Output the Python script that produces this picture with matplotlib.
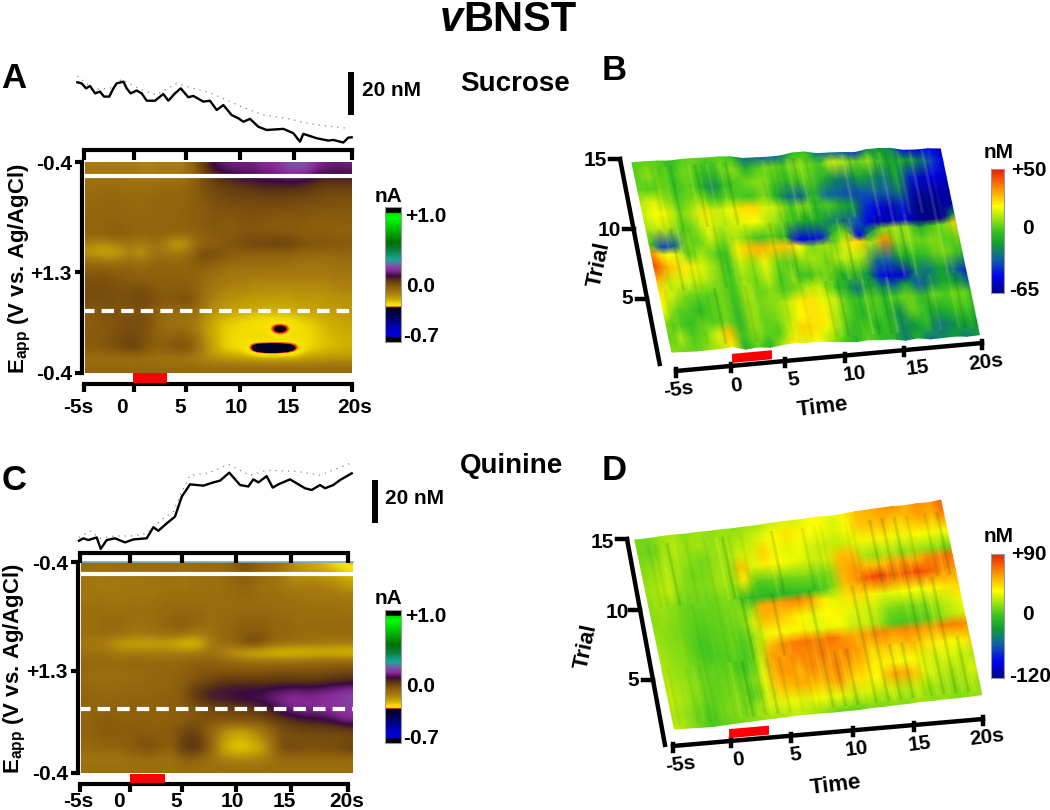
import matplotlib
matplotlib.use('Agg')
import matplotlib.pyplot as plt
import numpy as np
from matplotlib.collections import LineCollection
from matplotlib.colors import LinearSegmentedColormap, TwoSlopeNorm, Normalize
from matplotlib.transforms import Affine2D

plt.rcParams['font.family'] = ['Liberation Sans', 'DejaVu Sans']
plt.rcParams['font.weight'] = 'bold'
plt.rcParams['mathtext.fontset'] = 'custom'
plt.rcParams['mathtext.bf'] = 'Liberation Sans:bold'
plt.rcParams['mathtext.rm'] = 'Liberation Sans:bold'

# time columns of the colour plots and surfaces
seconds = np.arange(-5, 21)
half_seconds = np.arange(-5, 20.5, 0.5)
trials = np.arange(15, 0, -1)
relief_trials = [14.6, 10, 5.5, 1.4]

# scale bars of the traces
trace_a_t = [-5.62, -5.22, -4.81, -4.44, -3.97, -3.51, -3.13, -2.64, -2.26, -1.95, -1.33, -1.02, -0.65, -0.09, 0.38, 0.85, 1.62, 2.40, 2.87, 3.49, 4.02, 4.73, 5.20, 6.13, 6.75, 7.38, 8.0, 8.77, 9.40, 9.86, 10.49, 11.26, 12.04, 13.6, 14.53, 15.15, 15.46, 16.7, 17.79, 18.26, 19.19, 19.66, 19.97]
trace_a_nm = [0, -.5, -2.8, -1.7, -5.1, -4.3, -6.6, -6.6, -2.8, -.5, .3, -2.8, -5.1, -3.8, -5.1, -8.5, -8.5, -5.4, -8.5, -5.1, -2.8, -6.9, -6.3, -8.9, -8.5, -12.8, -10.5, -15.1, -16.6, -18.2, -16.9, -20.5, -22, -21.5, -23.5, -27.4, -23.8, -25.8, -26.9, -26.6, -27.8, -25.5, -25.4]
sem_a_t = [-5.62, -4.13, -2.57, -1.49, 0.22, 1.78, 3.64, 5.2, 6.75, 8.31, 9.86, 11.73, 13.91, 16.08, 19.5]
sem_a_nm = [2.9, -3.2, -2.8, 1.4, -3.2, -5.8, -0.5, -2.8, -4.8, -8.2, -11.6, -15.1, -16.6, -19.2, -21.2]

trace_c_t = [-5.09, -4.69, -4.22, -3.44, -3.07, -2.51, -1.73, -0.80, -0.02, 1.22, 1.84, 2.31, 3.09, 3.86, 4.49, 5.26, 6.51, 7.44, 8.06, 8.93, 9.93, 10.7, 11.17, 11.64, 12.41, 12.98, 13.5, 14.59, 15.99, 16.61, 17.39, 17.86, 18.63, 19.26, 20.35]
trace_c_nm = [0, 1.1, .3, 1.5, -3.8, .3, 1.1, -.8, .6, 1.1, 6.2, 4.6, 8, 11.1, 20.3, 26, 25.4, 26.9, 27.7, 31.4, 25.7, 25, 28.3, 26.9, 29.8, 24.5, 26, 28.3, 24.2, 23.4, 25.7, 24.2, 25.7, 28, 31.1]
sem_c_t = [-5.09, -4.06, -3.13, -1.73, -0.02, 1.22, 2.78, 3.71, 4.49, 5.26, 6.97, 8.84, 10.86, 12.41, 15.21, 17.39, 20.35]
sem_c_nm = [1.5, 4.5, 1.1, 2.2, 2.2, 3.4, 10.3, 13.4, 22.6, 30.2, 31.2, 35.2, 30.2, 32.5, 32, 30.2, 36]

# colour plot currents, in 0.01 nA, rows from the start of the sweep
cv_a = np.array([
    [-8,-9,-8,-9,-8,-10,-10,-8,-9,-9,-2,6,14,17,18,18,18,20,20,24,27,26,20,18,17,18],
    [-7,-7,-7,-7,-7,-8,-8,-7,-7,-7,-3,3,7,10,12,14,14,16,16,18,18,16,13,12,12,12],
    [-5,-5,-4,-5,-5,-5,-5,-4,-4,-4,-1,2,4,6,7,8,9,10,10,10,10,9,7,6,6,6],
    [-4,-4,-3,-4,-4,-4,-4,-3,-3,-3,-1,1,3,4,5,5,5,6,6,6,5,5,4,3,3,3],
    [-4,-3,-3,-3,-4,-4,-3,-3,-3,-2,-1,0,2,2,3,3,3,3,3,3,3,2,2,2,2,1],
    [-3,-3,-3,-3,-3,-4,-3,-3,-2,-2,-1,0,1,1,1,2,2,2,1,1,1,1,0,0,0,0],
    [-3,-3,-2,-2,-3,-3,-3,-2,-2,-2,-1,0,1,0,0,1,1,0,0,0,0,0,-1,-1,-1,-1],
    [-2,-1,0,0,-2,-3,-2,-2,-3,-3,-2,-1,0,1,0,1,1,1,1,0,0,-1,-1,-1,-2,-2],
    [-10,-12,-10,-8,-6,-9,-6,-8,-15,-17,-9,-2,-2,0,2,3,5,5,6,6,5,2,2,2,2,1],
    [-14,-16,-17,-15,-10,-15,-8,-6,-8,-7,-2,4,3,2,-1,0,-1,-2,-1,-1,-2,-3,-3,-4,-3,-3],
    [-4,-5,-6,-5,-3,-6,-3,-3,-3,-4,-1,1,-1,-3,-4,-5,-5,-4,-4,-5,-6,-6,-6,-6,-5,-5],
    [0,1,0,-1,-2,-3,-2,-2,-2,-2,-2,-3,-5,-6,-7,-7,-7,-8,-8,-8,-8,-8,-8,-8,-7,-7],
    [2,3,2,1,0,1,0,-1,-1,-1,-2,-4,-7,-8,-9,-9,-10,-10,-10,-10,-10,-10,-10,-10,-9,-9],
    [3,3,2,2,3,3,1,0,0,1,-1,-5,-8,-10,-11,-11,-12,-12,-12,-13,-12,-12,-12,-12,-11,-10],
    [3,3,3,2,3,5,3,1,1,2,3,-6,-10,-12,-13,-14,-14,-15,-15,-15,-14,-14,-14,-13,-13,-13],
    [0,1,2,1,1,2,0,-3,-4,-3,-4,-9,-12,-14,-15,-16,-17,-17,-17,-17,-16,-15,-15,-14,-14,-13],
    [-1,1,1,2,3,3,1,-5,-6,-7,-7,-12,-16,-19,-20,-21,-22,-23,-22,-22,-22,-20,-19,-17,-16,-15],
    [0,0,1,2,3,2,0,-4,-5,-4,-7,-12,-17,-20,-21,-22,-23,-22,-31,-31,-22,-22,-20,-18,-17,-16],
    [0,0,2,3,5,3,0,-2,-1,1,-2,-10,-16,-20,-22,-22,-20,-19,-19,-19,-21,-22,-20,-19,-18,-17],
    [-1,1,2,3,6,3,0,-1,1,3,-1,-9,-16,-20,-22,-23,-34,-36,-36,-35,-31,-22,-20,-19,-18,-17],
    [-5,-6,-6,-6,-7,-6,-7,-8,-8,-8,-9,-11,-12,-13,-14,-14,-14,-15,-15,-15,-15,-14,-14,-13,-13,-13],
    [-3,-3,-3,-3,-3,-3,-3,-3,-3,-3,-3,-4,-4,-4,-4,-4,-4,-4,-4,-4,-4,-4,-4,-4,-4,-4],
]) / 100

cv_c = np.array([
    [-4,-5,-5,-4,-4,-4,-4,-4,-4,-5,-4,-4,-4,-4,-2,3,0,-3,-4,-8,-13,-15,-17,-19,-22,-26],
    [-6,-7,-6,-6,-6,-6,-6,-6,-5,-6,-6,-5,-5,-4,-3,0,-2,-4,-6,-9,-12,-12,-13,-14,-15,-18],
    [-8,-8,-8,-9,-7,-8,-7,-7,-6,-8,-6,-6,-6,-5,-4,-2,-4,-6,-6,-8,-10,-9,-9,-10,-11,-14],
    [-7,-7,-7,-7,-6,-7,-7,-6,-5,-5,-5,-5,-5,-4,-4,-3,-4,-5,-5,-6,-7,-7,-7,-8,-8,-9],
    [-6,-6,-6,-7,-6,-6,-6,-5,-4,-5,-5,-5,-5,-4,-5,-4,-5,-5,-5,-5,-5,-6,-6,-6,-6,-7],
    [-5,-5,-4,-4,-5,-5,-5,-4,-4,-2,-2,-3,-5,-4,-4,-3,-3,-3,-4,-4,-5,-5,-5,-5,-5,-5],
    [-5,-5,-4,-4,-5,-6,-5,-4,-2,-1,-2,-4,-4,-4,-3,-1,-2,-1,-3,-3,-4,-4,-4,-4,-4,-4],
    [-5,-5,-4,-4,-6,-7,-6,-5,-4,-3,-6,-7,-6,-3,-2,-1,0,0,-3,-3,-4,-4,-4,-4,-4,-4],
    [-8,-9,-10,-15,-16,-16,-17,-16,-17,-20,-22,-18,-8,-4,-3,3,7,2,-3,-4,-5,-6,-6,-7,-7,-7],
    [-6,-6,-6,-9,-9,-9,-9,-9,-9,-9,-9,-8,-6,-11,-14,-18,-21,-21,-22,-23,-22,-22,-21,-21,-21,-22],
    [-3,-4,-3,-3,-3,-2,-3,-3,-3,-3,-1,-1,-1,-2,-3,-4,-4,-4,-4,-4,-4,-3,-3,-2,-2,-2],
    [-4,-5,-5,-6,-4,-5,-4,-3,-3,-2,-1,1,1,1,1,1,1,1,2,2,2,2,2,3,3,4],
    [-4,-5,-5,-4,-4,-4,-3,-3,-2,-1,1,3,5,7,8,8,8,8,8,8,8,8,8,9,10,11],
    [-3,-3,-4,-4,-3,-3,-3,-2,-2,-1,5,9,12,13,13,14,14,14,16,17,18,17,18,19,20,22],
    [-2,-3,-3,-2,-2,-2,-2,-1,-1,0,4,8,10,11,12,13,14,15,18,20,21,20,20,21,22,24],
    [-3,-2,-2,-2,-2,-1,-2,-2,-1,-1,0,1,3,3,4,5,6,8,12,16,18,19,19,20,21,22],
    [-3,-1,0,-1,-2,-1,-1,-2,-1,-1,1,2,2,2,3,3,3,4,6,8,10,12,12,13,17,20],
    [-2,-1,0,0,-1,0,-1,-1,0,2,5,2,-3,-10,-14,-14,-11,-6,0,3,4,5,5,5,5,6],
    [-3,-2,-1,-1,-1,1,1,0,-1,4,8,5,-3,-13,-17,-18,-15,-11,-2,3,2,2,2,3,2,3],
    [-4,-3,-2,-3,-1,1,3,1,-2,5,9,6,-3,-16,-20,-21,-19,-15,-4,5,4,3,3,3,4,6],
    [-7,-7,-7,-7,-6,-5,-5,-6,-7,-2,-1,-3,-6,-9,-10,-11,-10,-9,-6,-4,-4,-4,-4,-4,-4,-4],
    [-5,-5,-5,-5,-5,-5,-5,-5,-5,-5,-5,-5,-5,-5,-5,-5,-5,-5,-5,-5,-5,-5,-5,-5,-5,-5],
]) / 100

# trial by trial dopamine, nM, trial 15 first
surf_b = np.array([
    [2,4,3,-4,3,5,2,4,-2,-24,-26,-28,-24,-4,-2,-24,-26,-28,-38,-18,-14,-20,-45,-50,-46,-55],
    [3,8,4,0,6,2,-6,4,8,-6,3,6,2,8,6,0,16,10,4,8,-6,-12,-10,-20,-35,-50],
    [4,2,6,-2,4,-2,-20,-4,2,6,8,2,-4,2,4,-8,-20,-24,-10,-18,-25,-10,-40,-52,-50,-55],
    [12,16,10,2,6,8,-2,4,2,0,6,-8,-25,-28,-2,-28,-30,-34,-32,-28,-30,-20,-55,-60,-58,-60],
    [14,20,18,6,12,22,14,18,24,25,16,12,2,8,-2,2,-6,-15,-40,-50,-55,-40,-62,-64,-62,-60],
    [10,14,12,2,8,18,12,14,18,20,12,6,-2,-12,-8,-20,-25,-30,-50,-58,-55,-50,-62,-64,-62,-20],
    [2,-36,-30,6,4,14,6,12,6,-2,4,-8,-48,-50,-42,-2,6,-50,-15,6,10,8,-8,2,6,25],
    [35,20,18,4,10,4,-2,22,28,30,26,28,20,6,10,8,22,25,10,35,6,8,4,8,2,6],
    [45,30,24,22,16,8,-2,14,8,18,6,2,8,10,6,12,14,10,-25,-30,-12,-2,-2,6,4,-2],
    [28,14,16,14,12,6,0,10,6,14,2,6,-2,4,6,-8,2,-15,-45,-52,-50,-20,-25,-10,-25,-40],
    [22,14,6,4,2,6,-2,12,4,8,2,6,12,14,2,-8,-25,-8,-20,-25,-10,-30,-20,-10,-15,-25],
    [20,4,2,-4,2,6,-4,10,6,8,12,22,24,18,14,2,-2,4,-2,2,6,-4,4,2,6,2],
    [6,2,-2,4,2,6,-6,10,4,6,12,20,24,22,10,2,-6,2,-4,-18,6,-2,-10,-4,2,-2],
    [4,10,2,6,16,28,-2,8,4,2,16,26,24,18,8,-4,2,-6,-2,-20,-14,-4,-25,-18,-10,-10],
    [8,6,4,8,12,22,-8,4,-6,10,22,16,20,10,2,-6,4,-2,-4,-22,-8,-25,-20,-14,-22,-16],
])

surf_d = np.array([
    [12,10,16,20,14,18,14,18,14,18,20,26,30,28,34,36,30,38,50,54,58,62,54,62,58,72],
    [10,8,16,22,16,18,16,18,20,24,30,36,42,38,36,34,28,36,50,50,54,46,50,56,52,66],
    [12,14,20,18,14,10,16,18,26,28,46,34,30,34,26,26,24,28,34,38,38,32,38,36,34,36],
    [14,18,22,16,10,10,18,16,50,30,40,36,32,30,24,28,52,50,20,16,22,14,18,16,14,8],
    [16,20,24,12,12,12,18,14,40,4,6,8,10,12,8,14,54,58,52,50,56,60,54,64,66,72],
    [14,18,14,8,10,8,12,10,-6,-8,-10,-8,-6,-4,0,14,52,60,78,82,70,74,80,72,62,58],
    [14,16,12,8,6,8,10,12,14,56,58,60,64,58,40,30,42,44,38,30,34,36,34,38,42,46],
    [16,14,10,6,4,6,8,10,26,52,50,44,36,30,36,38,30,28,24,14,10,12,14,20,26,34],
    [18,14,12,4,2,6,8,4,18,34,38,34,38,30,32,34,24,26,18,4,2,4,6,14,22,28],
    [20,16,12,6,2,4,6,2,20,52,62,66,68,64,70,60,56,60,66,60,64,62,56,64,66,62],
    [22,16,14,8,6,8,4,0,26,60,58,64,62,66,60,64,58,46,50,44,52,46,40,38,34,44],
    [24,18,16,10,6,10,8,8,30,56,60,54,62,58,64,56,50,40,38,34,36,30,26,30,24,22],
    [26,20,14,8,6,12,10,2,28,50,52,56,50,54,60,44,42,36,54,58,50,30,24,18,22,30],
    [22,16,10,4,8,14,10,14,28,30,34,28,36,30,32,24,28,22,26,20,24,16,18,14,20,18],
    [24,18,10,2,6,10,12,16,18,18,24,20,16,10,8,6,12,10,14,12,18,14,16,12,14,16],
])

# light and dark streaks of the surface relief, half second columns
relief_b = np.array([
    [1,-1,2,-2,1,0,-2,2,-1,1,-2,1,2,-1,0,-2,2,-2,1,-1,2,0,-2,1,-1,2,-2,1,0,-1,2,-2,1,-1,2,-1,-2,1,2,-2,1,-1,0,2,-2,1,-1,2,-1,1,-2],
    [-1,2,-1,1,-2,2,0,-2,1,2,-1,-2,1,0,2,-1,-2,2,-1,1,-2,2,1,-2,0,1,-1,2,-2,1,-1,2,-2,0,1,-2,2,-1,1,-1,2,-2,1,0,-1,2,-2,1,2,-1,1],
    [2,-2,0,1,-1,2,-2,1,-1,-2,2,0,-1,2,-2,1,1,-2,2,-1,0,-2,2,-1,1,-2,2,-1,1,-2,0,1,-2,2,-1,1,-2,2,0,-1,1,-2,2,-1,1,-2,1,2,-1,0,-2],
    [-2,1,2,-1,1,-2,1,0,2,-1,-2,1,2,-2,0,1,-1,2,-2,1,-1,2,-2,0,1,2,-2,-1,2,-1,1,-2,1,2,-2,0,-1,2,-1,1,-2,2,-1,-2,1,2,-1,0,-2,1,-1],
])
relief_d = np.array([
    [2,-1,1,-2,2,-1,0,1,-2,2,-1,1,-1,2,-2,1,0,-1,2,-2,1,2,-1,-2,1,-1,2,-2,1,0,-2,2,-1,1,-2,1,2,-1,-2,2,-1,1,-2,2,0,-1,1,-2,2,-1,1],
    [-1,2,-2,1,0,-2,2,-1,1,-1,2,-2,1,2,-1,-2,1,0,-2,2,-1,1,-2,2,-1,1,-2,0,2,-1,1,-2,2,-1,1,-2,0,2,-1,1,-2,2,-1,1,-2,2,-1,0,1,-2,1],
    [1,-2,2,-1,1,2,-2,0,-1,2,-2,1,0,-1,2,-2,1,-1,2,-1,-2,1,2,-2,0,1,-1,2,-2,1,-1,2,0,-2,1,-1,2,-2,1,-1,2,0,-2,1,-1,2,-2,1,-1,2,-1],
    [-2,1,-1,2,-2,0,1,-1,2,-2,1,2,-1,-2,1,0,2,-2,1,-1,2,-2,0,1,-1,2,-2,1,-1,2,-2,1,0,-1,2,-2,1,-1,2,-2,1,-1,0,2,-2,1,-1,2,-2,1,0],
])

time_labels = ['-5s', '0', '5', '10', '15', '20s']
trial_ticks = [15, 10, 5]

cv_cmap = LinearSegmentedColormap.from_list('cv', [
    (0, '#000000'), (.03, '#000000'), (.04, '#0000e0'), (.1, '#0000c0'), (.18, '#000064'),
    (.255, '#00001c'), (.258, '#e01a1a'), (.266, '#ffe600'), (.285, '#f0dc00'), (.31, '#d0b000'),
    (.36, '#a87c10'), (.41, '#8a5c0c'), (.46, '#5a3412'), (.49, '#3a0a40'), (.53, '#8a2a9a'),
    (.57, '#7a5aa8'), (.61, '#1aa89a'), (.68, '#0a8040'), (.74, '#007000'), (.82, '#00b000'),
    (.92, '#00ff00'), (.955, '#00e000'), (.96, '#000000'), (1, '#000000')], N=1024)
surf_cmap = LinearSegmentedColormap.from_list('surf', [
    (0, '#000080'), (.13, '#0000f0'), (.27, '#1060a8'), (.4, '#10a030'), (.5, '#38c420'),
    (.6, '#a0e410'), (.7, '#ffff00'), (.82, '#ffa000'), (1, '#f01808')], N=512)

W, H = 1050, 810
fig = plt.figure(figsize=(W / 100, H / 100), dpi=100)


def px_axes(x0, y0, x1, y1):
    return fig.add_axes([x0 / W, 1 - y1 / H, (x1 - x0) / W, (y1 - y0) / H])


def time_ruler(x0, x1, y, tick_pos, label_pos=None, ticklen=6, pad=10):
    # a lone time axis, wider than its line so that labels may lie outside it
    s = (x1 - x0) / 25
    ax = px_axes(x0 - 5 * s, y, x1 + 5 * s, y + 1)
    ax.set_xlim(-10, 25)
    ax.patch.set_visible(False)
    for k in ['top', 'left', 'right']:
        ax.spines[k].set_visible(False)
    ax.spines['bottom'].set_bounds(-5, 20)
    ax.spines['bottom'].set_linewidth(3)
    ax.set_yticks([])
    ax.set_xticks(tick_pos, [''] * len(tick_pos))
    ax.tick_params(axis='x', which='major', length=ticklen, width=3)
    if label_pos is not None:
        ax.set_xticks(label_pos, time_labels, minor=True)
        ax.tick_params(axis='x', which='minor', length=0, labelsize=15, pad=pad)
    return ax


def colour_plot(box, values, white_row, dash_row, mid_row):
    ax = px_axes(*box)
    ax.imshow(values, cmap=cv_cmap, norm=Normalize(-0.7, 1.0), aspect='auto',
              interpolation='bicubic', extent=[-5, 20, 22, 0])
    ax.plot([-5, 20], [white_row, white_row], color='white', lw=3, solid_capstyle='butt')
    ax.plot([-5.3, 20], [dash_row, dash_row], color='white', lw=3, dashes=(3, 1.7), clip_on=False)
    ax.set_xlim(-5, 20)
    ax.set_ylim(22, 0)
    for k in ['top', 'right', 'bottom']:
        ax.spines[k].set_visible(False)
    ax.spines['left'].set_position(('outward', 2.5))
    ax.spines['left'].set_linewidth(3)
    ax.set_xticks([])
    ax.set_yticks([0, mid_row, 22], ['-0.4', '+1.3', '-0.4'])
    ax.tick_params(axis='y', length=5, width=3, labelsize=15, pad=2)
    return ax


def trace_panel(x0, x1, y_zero, t, nm, sem_t, sem_nm):
    s = (x1 - x0) / 25
    ax = px_axes(x0 - s, y_zero - 2.167 * 40, x1 + s, y_zero + 2.167 * 30)
    ax.set_xlim(-6, 21)
    ax.set_ylim(-30, 40)
    ax.axis('off')
    ax.plot(sem_t, sem_nm, color='#888888', lw=0.9, ls=(0, (1, 4)))
    ax.plot(t, nm, color='black', lw=1.7, solid_joinstyle='round')


def stim_bar(x0, x1, y0, y1, start, stop):
    ax = px_axes(x0, y0, x1, y1)
    ax.set_xlim(-5, 20)
    ax.axis('off')
    ax.axvspan(start, stop, color='#ff0000', lw=0)


def gradient_bar(box, cmap):
    ax = px_axes(*box)
    ax.imshow(np.linspace(1, 0, 512)[:, None], cmap=cmap, aspect='auto', vmin=0, vmax=1)
    ax.set_xticks([])
    ax.set_yticks([])
    for sp in ax.spines.values():
        sp.set_color('#999999')
        sp.set_linewidth(0.8)


# panel A
trace_panel(84, 352, 82.3, trace_a_t, trace_a_nm, sem_a_t, sem_a_nm)
colour_plot((85, 162, 352, 373), cv_a, 1.46, 15.5, 11.5)
time_ruler(84, 352, 149, [-5, -0.34, 4.51, 9.55, 14.59, 20], ticklen=7)
time_ruler(84, 352, 383, [-5, -0.34, 4.51, 9.55, 14.59, 20], [-5.56, -1.46, 3.96, 9.18, 14.03, 20.28])
stim_bar(84, 352, 373, 383, -0.43, 2.74)
gradient_bar((385, 207, 401, 342), cv_cmap)

# panel C
trace_panel(80, 348, 540.7, trace_c_t, trace_c_nm, sem_c_t, sem_c_nm)
ax_c = colour_plot((81, 562, 353, 773), cv_c, 1.25, 15.3, 11.35)
ax_c.plot([-5, 20], [0, 0], color='#6ab0e0', lw=1.2, clip_on=False)
time_ruler(80, 348, 552, [-5, -0.34, 4.51, 9.55, 14.68, 20], ticklen=7)
time_ruler(80, 348, 783, [-5, -0.34, 4.51, 9.55, 14.68, 20], [-5.19, -1.36, 3.96, 9.18, 14.03, 19.9], pad=6)
stim_bar(80, 348, 774, 783, -0.34, 2.93)
gradient_bar((385, 610, 401, 743), cv_cmap)

# overlay in figure pixels for the tilted panels and the free text
ov = fig.add_axes([0, 0, 1, 1], zorder=5)
ov.patch.set_visible(False)
ov.axis('off')


def surface(values, relief, norm, corner, ex, ey, lift):
    tf = Affine2D.from_values(ex[0] / 25, ex[1] / 25, ey[0] / 14, ey[1] / 14,
                              corner[0] + ex[0] / 5 - ey[0] / 14, corner[1] + ex[1] / 5 - ey[1] / 14)
    T, R = np.meshgrid(seconds, trials)
    ov.pcolormesh(T, R + lift * values, values, cmap=surf_cmap, norm=norm, shading='gouraud',
                  transform=tf + ov.transData)
    # streaks run along the trial direction, soft wide lines over the mesh
    segs, cols = [], []
    for i in range(len(relief_trials) - 1):
        for j, t in enumerate(half_seconds):
            v = (relief[i, j] + relief[i + 1, j]) / 2
            segs.append([(t, relief_trials[i]), (t, relief_trials[i + 1])])
            cols.append((1, 1, .3, .1 * v) if v > 0 else (0, .3, .05, -.1 * v))
    ov.add_collection(LineCollection(segs, colors=cols, linewidths=2.2, capstyle='butt',
                                     transform=tf + ov.transData), autolim=False)


def tilted_axes(t_start, t_vec, tick_pos, stim, r15, r_slope, r_low):
    # time axis along t_vec, second coordinate is a pixel offset straight down
    tf = Affine2D.from_values(t_vec[0] / 25, t_vec[1] / 25, 0, 1,
                              t_start[0] + t_vec[0] / 5, t_start[1] + t_vec[1] / 5) + ov.transData
    ov.plot([-5, 20], [0, 0], color='black', lw=3.2, transform=tf, solid_capstyle='projecting')
    for p in tick_pos:
        ov.plot([p, p], [-2, 5], color='black', lw=3.2, transform=tf)
    ov.fill([stim[0], stim[1], stim[1], stim[0]], [-3, -3, -12, -12], color='#ff0000', lw=0, transform=tf, zorder=4)
    # trial axis, second coordinate is a pixel offset to the right
    tf2 = Affine2D.from_values(-r_slope[0], -r_slope[1], 1, 0,
                               r15[0] + 15 * r_slope[0], r15[1] + 15 * r_slope[1]) + ov.transData
    ov.plot([r_low, 15], [0, 0], color='black', lw=3.2, transform=tf2, solid_capstyle='projecting')
    for r in trial_ticks:
        ov.plot([r, r], [-10, 0], color='black', lw=3.2, transform=tf2)


surface(surf_b, relief_b, TwoSlopeNorm(vmin=-65, vcenter=0, vmax=50), (672, 353), (307, -20), (-40, -190), 0.008)
tilted_axes((676, 371), (306, -28), [-5, -0.5, 3.9, 8.8, 13.6, 20], (-0.42, 2.84), (620, 159), (2.71, 14), 0.36)
surface(surf_d, relief_d, TwoSlopeNorm(vmin=-120, vcenter=0, vmax=90), (675, 731), (307, -35), (-40, -190), 0.006)
tilted_axes((673, 746), (310, -27), [-5, -0.3, 4.5, 9.5, 14.4, 20], (-0.48, 2.74), (627, 539), (2.6, 14.1), 0.4)
ov.set_xlim(0, W)
ov.set_ylim(H, 0)

gradient_bar((991, 169, 1004, 293), surf_cmap)
gradient_bar((991, 554, 1004, 678), surf_cmap)
ov.set_zorder(6)

# text
ov.text(463, 20, 'v', fontsize=30, style='italic', ha='right', va='center')
ov.text(463, 20, 'BNST', fontsize=30, ha='left', va='center')
for s, x, y in [('A', 1, 78), ('B', 602, 70), ('C', 2, 481), ('D', 602, 471)]:
    ov.text(x, y, s, fontsize=25, ha='left', va='center')
ov.text(460, 84, 'Sucrose', fontsize=20, va='center')
ov.text(460, 466, 'Quinine', fontsize=20, va='center')

# concentration scale bars
ov.add_patch(plt.Rectangle((348, 72), 6, 43, color='black', lw=0))
ov.add_patch(plt.Rectangle((372, 480), 6, 43, color='black', lw=0))
ov.text(362, 91, '20 nM', fontsize=15, va='center')
ov.text(385, 499, '20 nM', fontsize=15, va='center')

eapp = r'$\mathbf{E_{app}}$ (V vs. Ag/AgCl)'
ov.text(20, 268, eapp, fontsize=16, rotation=90, ha='center', va='center')
ov.text(15, 668, eapp, fontsize=16, rotation=90, ha='center', va='center')

for y0, labels in [(196, [('+1.0', 405, 216), ('0.0', 406, 286), ('-0.7', 403, 337)]),
                   (599, [('+1.0', 405, 617), ('0.0', 406, 687), ('-0.7', 403, 738)])]:
    ov.text(389, y0, 'nA', fontsize=15, ha='center', va='center')
    for s, x, y in labels:
        ov.text(x, y, s, fontsize=15, va='center')

for y0, labels in [(152, [('+50', 1011, 170), ('0', 1022, 229), ('-65', 1009, 291)]),
                   (536, [('+90', 1011, 555), ('0', 1022, 614), ('-120', 1009, 676)])]:
    ov.text(999, y0, 'nM', fontsize=15, ha='center', va='center')
    for s, x, y in labels:
        ov.text(x, y, s, fontsize=15, va='center')

b_ticks = [(678, 390), (736, 386), (794, 380), (855, 374), (918, 368), (986, 362)]
d_ticks = [(680, 765), (738, 760), (796, 755), (857, 749), (920, 744), (987, 737)]
for pos in (b_ticks, d_ticks):
    for s, (x, y) in zip(time_labels, pos):
        ov.text(x, y, s, fontsize=15, rotation=7, ha='center', va='center')
ov.text(823, 407, 'Time', fontsize=16, rotation=7, ha='center', va='center')
ov.text(836, 785, 'Time', fontsize=16, rotation=7, ha='center', va='center')
ov.text(599, 265, 'Trial', fontsize=16, rotation=78, ha='center', va='center')
ov.text(586, 647, 'Trial', fontsize=16, rotation=78, ha='center', va='center')
for r, (x, y) in zip(trial_ticks, [(595, 161), (609, 231), (627, 299)]):
    ov.text(x, y, str(r), fontsize=15, ha='center', va='center')
for r, (x, y) in zip(trial_ticks, [(602, 542), (617, 612), (633, 681)]):
    ov.text(x, y, str(r), fontsize=15, ha='center', va='center')

fig.savefig('out.png', dpi=100)
